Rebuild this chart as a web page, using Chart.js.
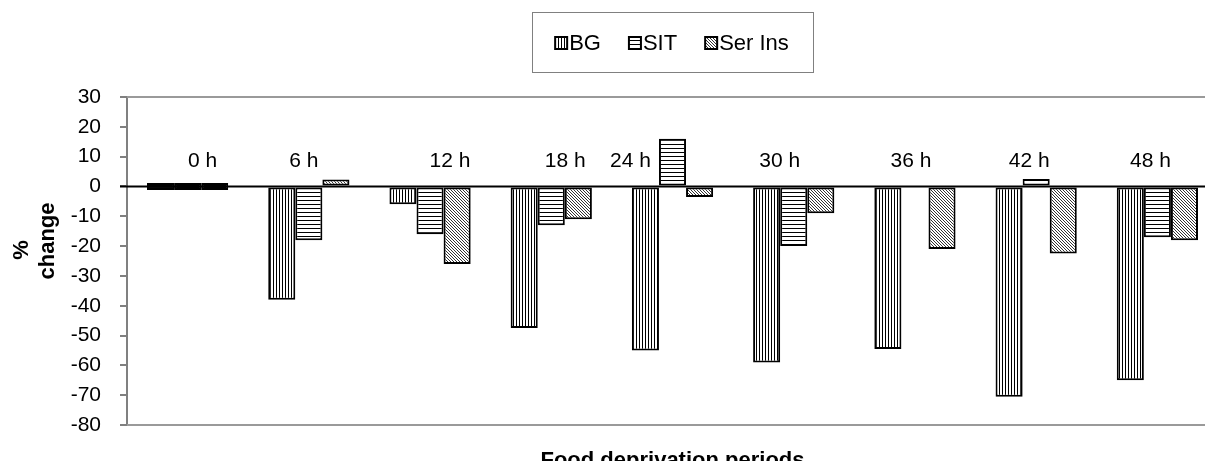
<!DOCTYPE html>
<html>
<head>
<meta charset="utf-8">
<script src="https://cdn.jsdelivr.net/npm/chart.js@4.4.1/dist/chart.umd.min.js"></script>
<style>
  html, body { margin:0; padding:0; background:#fff; overflow:hidden; }
</style>
</head>
<body>
<canvas id="barChart" width="1220" height="461"></canvas>
<script>
const periods = ['0 h', '6 h', '12 h', '18 h', '24 h', '30 h', '36 h', '42 h', '48 h']
const bgValues = [0, -38, -6, -47.5, -55, -59, -54.5, -70.5, -65]
const sitValues = [0, -18, -16, -13, 16, -20, null, 2.5, -17]
const serInsValues = [0, 1, -26, -11, -3.5, -9, -21, -22.5, -18]
const seriesNames = ['BG', 'SIT', 'Ser Ins']
const yMin = -80, yMax = 30, yStep = 10

// the period labels sit above the zero line, nudged sideways like the original
const labelShift = [15, -5, 20, 14, -42, -14, -4, -7, -7]

const canvas = document.getElementById('barChart')
const ctx = canvas.getContext('2d')

function hatch(kind){
    const size = kind === 'h' ? 4 : 3
    const c = document.createElement('canvas')
    c.width = size; c.height = size
    const g = c.getContext('2d')
    g.fillStyle = '#fff'
    g.fillRect(0, 0, size, size)
    g.fillStyle = kind === 'd' ? '#333' : '#000'
    if(kind === 'v'){ g.fillRect(0, 0, 1, size) }
    else if(kind === 'h'){ g.fillRect(0, 0, size, 1) }
    else { for(let i = 0; i < size; i++){ g.fillRect(i, i, 1, 1) } }
    return ctx.createPattern(c, 'repeat')
}
const patterns = [hatch('v'), hatch('h'), hatch('d')]

function fillFor(i){
    return function(c){
        return c.raw === 0 ? '#000' : patterns[i]
    }
}

const decor = {
    id: 'decor',
    beforeDatasetsDraw(chart){
        const a = chart.chartArea, g = chart.ctx
        g.save()
        g.strokeStyle = '#9a9a9a'
        g.lineWidth = 2
        g.beginPath()
        g.moveTo(a.left, a.top); g.lineTo(a.right, a.top)
        g.moveTo(a.left, a.bottom); g.lineTo(a.right, a.bottom)
        g.stroke()
        g.restore()
    },
    afterDatasetsDraw(chart){
        const a = chart.chartArea, g = chart.ctx
        const x = chart.scales.x, y = chart.scales.y
        const y0 = y.getPixelForValue(0)
        g.save()
        // zero line
        g.strokeStyle = '#000'
        g.lineWidth = 2
        g.beginPath()
        g.moveTo(a.left - 7, y0); g.lineTo(a.right, y0)
        g.stroke()

        // period labels
        g.fillStyle = '#000'
        g.font = '21px "Liberation Sans", Arial, sans-serif'
        g.textAlign = 'center'
        g.textBaseline = 'middle'
        periods.forEach(function(p, i){
            g.fillText(p, x.getPixelForValue(i) + labelShift[i], y0 - 25)
        })

        // legend box
        g.strokeStyle = '#808080'
        g.lineWidth = 1
        g.strokeRect(532.5, 12.5, 281, 60)
        g.font = '22px "Liberation Sans", Arial, sans-serif'
        g.textAlign = 'left'
        const sw = 12, gapIn = 2, gapOut = 28
        let total = 0
        seriesNames.forEach(function(n, i){
            total += sw + gapIn + g.measureText(n).width + (i < seriesNames.length - 1 ? gapOut : 0)
        })
        let lx = 672 - total / 2
        const ly = 43
        seriesNames.forEach(function(n, i){
            g.fillStyle = patterns[i]
            g.fillRect(lx, ly - 6, sw, sw)
            g.strokeStyle = '#000'
            g.lineWidth = 2
            g.strokeRect(lx, ly - 6, sw, sw)
            g.fillStyle = '#000'
            g.fillText(n, lx + sw + gapIn, ly + 1)
            lx += sw + gapIn + g.measureText(n).width + gapOut
        })

        // axis titles
        g.font = 'bold 22px "Liberation Sans", Arial, sans-serif'
        g.textAlign = 'center'
        g.textBaseline = 'alphabetic'
        g.fillText('Food deprivation periods', (a.left + a.right) / 2, 467)

        g.textBaseline = 'middle'
        g.translate(48, 241)
        g.rotate(-Math.PI / 2)
        g.fillText('change', 0, 0)
        g.rotate(Math.PI / 2)
        g.translate(-48, -241)
        g.translate(22, 250)
        g.rotate(-Math.PI / 2)
        g.fillText('%', 0, 0)
        g.restore()
    }
}

const myChart = new Chart(ctx, {
    type: 'bar',
    data: {
        labels: periods,
        datasets: [
            { label: seriesNames[0], data: bgValues, backgroundColor: fillFor(0) },
            { label: seriesNames[1], data: sitValues, backgroundColor: fillFor(1) },
            { label: seriesNames[2], data: serInsValues, backgroundColor: fillFor(2) }
        ]
    },
    options: {
        responsive: false,
        animation: false,
        devicePixelRatio: 1,
        layout: { padding: { top: 97, bottom: 36, right: 2, left: 0 } },
        datasets: {
            bar: {
                borderColor: '#000',
                borderWidth: 2,
                borderSkipped: false,
                barPercentage: 1,
                categoryPercentage: 0.67,
                minBarLength: 7
            }
        },
        plugins: {
            legend: { display: false },
            tooltip: { enabled: false }
        },
        scales: {
            x: { display: false },
            y: {
                min: yMin,
                max: yMax,
                ticks: {
                    stepSize: yStep,
                    color: '#000',
                    padding: 19,
                    font: { family: '"Liberation Sans", Arial, sans-serif', size: 21 }
                },
                grid: { drawOnChartArea: false, drawTicks: true, tickLength: 7, color: '#808080', lineWidth: 2 },
                border: { display: true, color: '#808080', width: 2 },
                afterFit: function(s){ s.width = 127 }
            }
        }
    },
    plugins: [decor]
})
</script>
</body>
</html>
